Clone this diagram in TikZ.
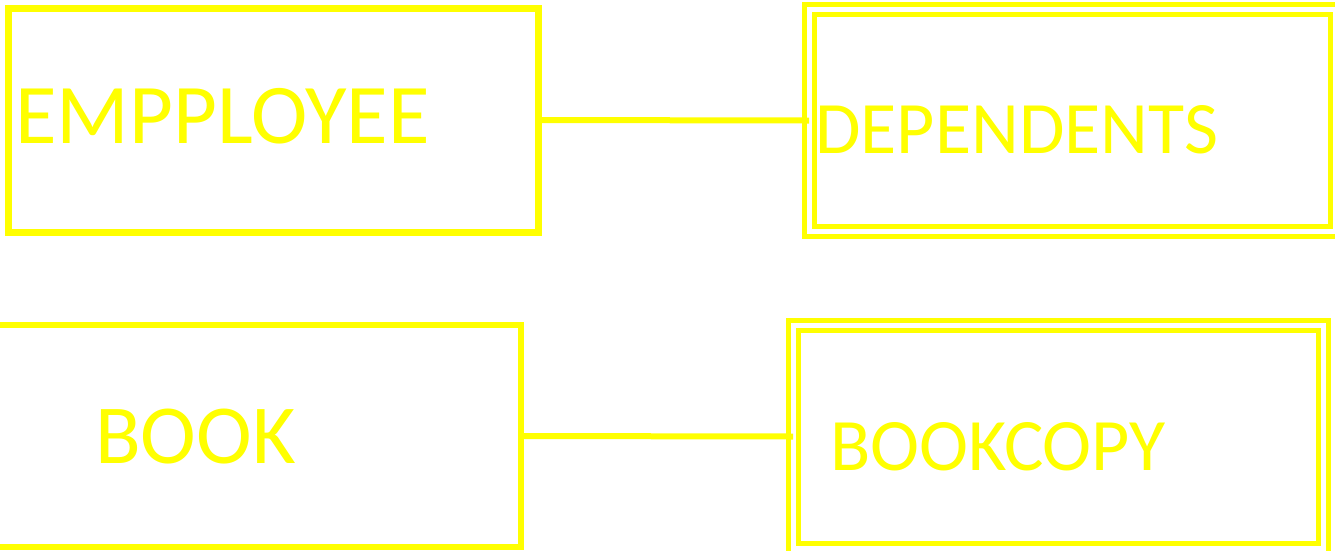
\documentclass[tikz,border=0pt]{standalone}
\usepackage{fontspec}
\setmainfont{Carlito}
\usetikzlibrary{positioning}
\definecolor{entyellow}{RGB}{255,255,0}

\begin{document}
\begin{tikzpicture}[x=1pt, y=-1pt,
  strongent/.style={draw=entyellow, line width=7pt, inner sep=0pt, outer sep=0pt},
  weakent/.style={draw=entyellow, line width=5pt, double=white, double distance=5pt,
    inner sep=0pt, outer sep=0pt},
  entname/.style={text=entyellow, inner sep=0pt, anchor=base west},
  lnk/.style={entyellow, line width=6pt},
]
\useasboundingbox (0,0) rectangle (1335,550);

% Strong entities
\node[strongent, minimum width=530pt, minimum height=224pt] (emp) at (273,120) {};
\node[strongent, line width=6pt, minimum width=526pt, minimum height=222pt] (book) at (258,436) {};

% Weak entities
\node[weakent, minimum width=526pt, minimum height=222pt] (dep) at (1072,120.5) {};
\node[weakent, minimum width=530pt, minimum height=223pt] (copy) at (1058,436.5) {};

% Names
\node[entname, font=\fontsize{85}{92}\selectfont] (empname) at (15,143) {EMPPLOYEE};
\node[entname, font=\fontsize{74}{80}\selectfont] (depname) at (815,153) {DEPENDENTS};
\node[entname, font=\fontsize{84}{90}\selectfont] (bookname) at (95,463) {BOOK};
\node[entname, font=\fontsize{74}{80}\selectfont] (copyname) at (830,470) {BOOKCOPY};

% Links
\draw[lnk] (emp.east) -- (dep.west);
\draw[lnk] (book.east) -- (copy.west);
\end{tikzpicture}
\end{document}
